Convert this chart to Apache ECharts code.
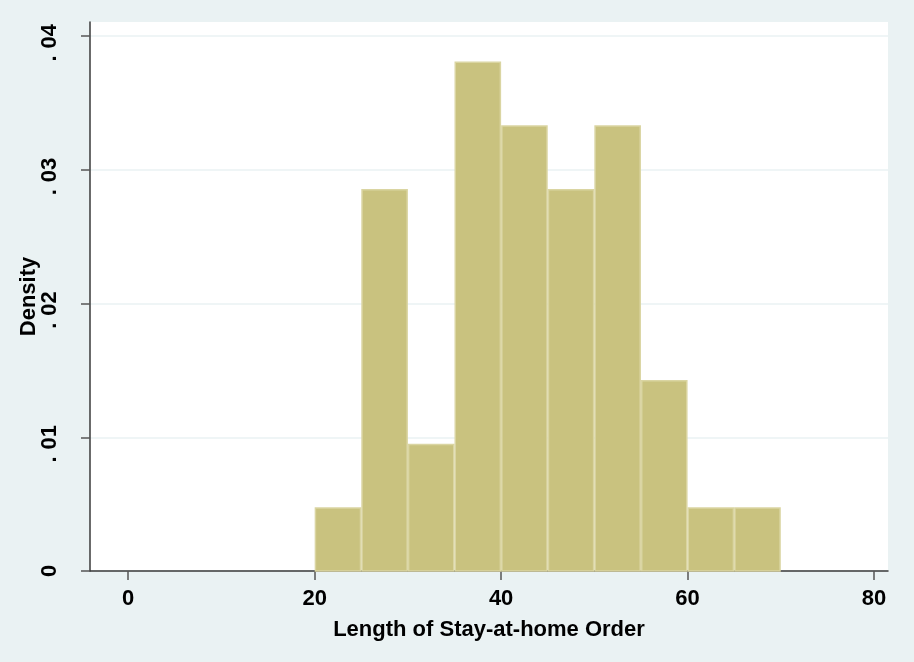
<!DOCTYPE html>
<html>
<head>
<meta charset="utf-8">
<script src="https://cdn.jsdelivr.net/npm/echarts@6/dist/echarts.min.js"></script>
<style>
html,body{margin:0;padding:0;background:#EAF2F3;}
#chart{width:914px;height:662px;}
</style>
</head>
<body>
<div id="chart"></div>
<script>
// Histogram bins (start, end) and density values
var binStarts = [20, 25, 30, 35, 40, 45, 50, 55, 60, 65];
var binWidth = 5;
var densities = [0.00476, 0.02857, 0.00952, 0.03810, 0.03333, 0.02857, 0.03333, 0.01429, 0.00476, 0.00476];
var xTicks = [0, 20, 40, 60, 80];
var yTicks = [0, 0.01, 0.02, 0.03, 0.04];

var data = binStarts.map(function (s, i) { return [s, s + binWidth, densities[i]]; });

var chart = echarts.init(document.getElementById('chart'), null, {renderer: 'canvas'});
var font = '"Liberation Sans", Arial, sans-serif';
chart.setOption({
  backgroundColor: '#EAF2F3',
  animation: false,
  grid: {left: 90, right: 26, top: 22, bottom: 91, show: true, backgroundColor: '#ffffff', borderWidth: 0},
  xAxis: {
    type: 'value', min: -4.1, max: 81.5,
    name: 'Length of Stay-at-home Order', nameLocation: 'middle', nameGap: 48, nameMoveOverlap: false,
    nameTextStyle: {fontFamily: font, fontWeight: 'bold', fontSize: 22, color: '#000'},
    axisLine: {show: true, onZero: false, lineStyle: {color: '#3a3a3a', width: 1.5}},
    axisTick: {show: true, length: 9, customValues: xTicks, lineStyle: {color: '#555', width: 1.5}},
    axisLabel: {customValues: xTicks, margin: 17, fontFamily: font, fontWeight: 'bold', fontSize: 22, color: '#000'},
    splitLine: {show: false}
  },
  yAxis: {
    type: 'value', min: 0, max: 0.04106, interval: 0.01,
    name: 'Density', nameLocation: 'middle', nameGap: 50, nameMoveOverlap: false,
    nameTextStyle: {fontFamily: font, fontWeight: 'bold', fontSize: 22, color: '#000'},
    axisLine: {show: true, onZero: false, lineStyle: {color: '#3a3a3a', width: 1.5}},
    axisTick: {show: true, length: 9, customValues: yTicks, lineStyle: {color: '#555', width: 1.5}},
    axisLabel: {
      customValues: yTicks, rotate: 90, margin: 29, fontFamily: font, fontWeight: 'bold', fontSize: 22, color: '#000',
      formatter: function (v) {
        if (v === 0) return '0';
        var s = String(Math.round(v * 100) / 100).replace(/^0/, '');
        return '{d|.}{n|' + s.slice(1) + '}';
      },
      rich: {
        d: {fontFamily: font, fontWeight: 'bold', fontSize: 22, color: '#000', width: 13, align: 'left'},
        n: {fontFamily: font, fontWeight: 'bold', fontSize: 22, color: '#000', width: 37.5, align: 'left'}
      }
    },
    splitLine: {show: true, lineStyle: {color: '#EAF2F3', width: 1.5}}
  },
  series: [{
    type: 'custom',
    data: data,
    encode: {x: [0, 1], y: 2},
    renderItem: function (params, api) {
      var p0 = api.coord([api.value(0), api.value(2)]);
      var p1 = api.coord([api.value(1), 0]);
      return {
        type: 'rect',
        shape: {x: p0[0] + 0.75, y: p0[1] + 0.75, width: p1[0] - p0[0] - 1.5, height: p1[1] - p0[1] - 0.75},
        style: {fill: '#C9C27F', stroke: '#DAD5A2', lineWidth: 1.5}
      };
    }
  }]
});
</script>
</body>
</html>
